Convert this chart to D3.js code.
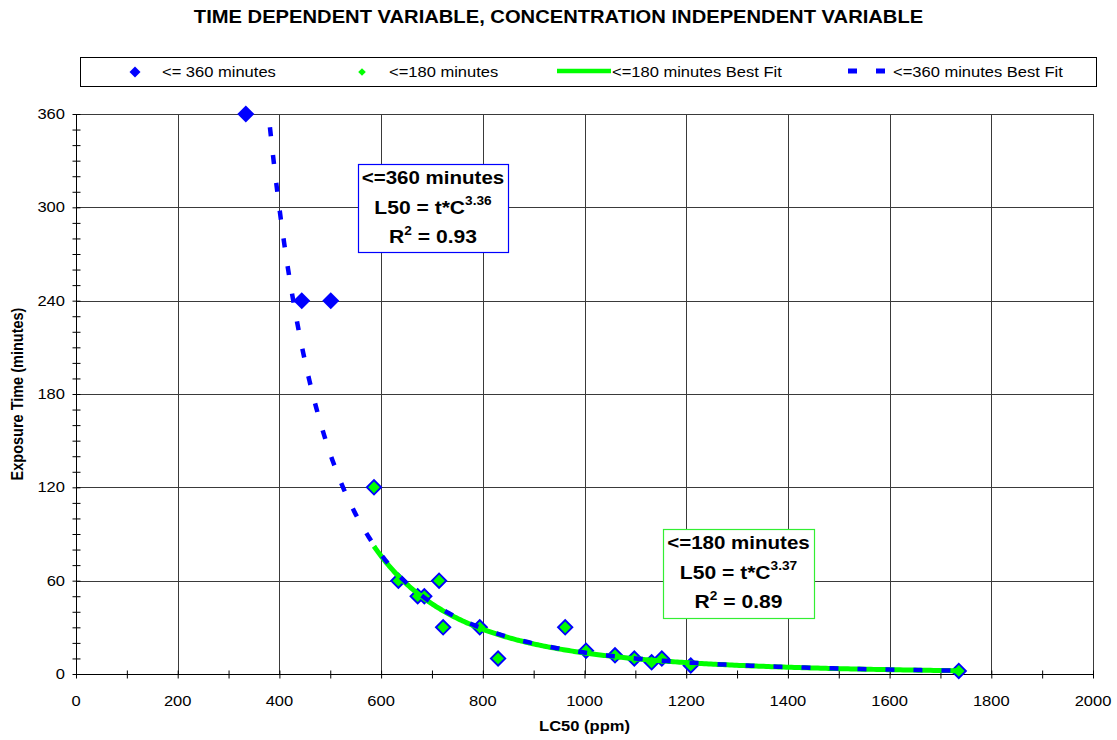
<!DOCTYPE html>
<html>
<head>
<meta charset="utf-8">
<script src="https://cdn.jsdelivr.net/npm/d3@7"></script>
<style>
  html, body { margin: 0; padding: 0; background: #fff; }
  svg { display: block; font-family: "Liberation Sans", Arial, Helvetica, sans-serif; }
</style>
</head>
<body>
<svg id="chart" width="1117" height="740"></svg>
<script>
// ---- chart text ----
const chartTitle = "TIME DEPENDENT VARIABLE, CONCENTRATION INDEPENDENT VARIABLE";
const xTitle = "LC50 (ppm)";
const yTitle = "Exposure Time (minutes)";
const seriesNames = ["<= 360 minutes", "<=180 minutes", "<=180 minutes Best Fit", "<=360 minutes Best Fit"];

// ---- axis ticks ----
const xMajorTicks = [0, 200, 400, 600, 800, 1000, 1200, 1400, 1600, 1800, 2000];
const xMinorStep = 100;
const yMajorTicks = [0, 60, 120, 180, 240, 300, 360];
const yMinorStep = 10;

// ---- observations: LC50 (ppm) vs exposure time (minutes) ----
const conc360 = [334, 444, 501, 586, 634, 672, 685, 714, 722, 794, 830, 962, 1003, 1060, 1098, 1132, 1152, 1209, 1736];
const time360 = [360, 240, 240, 120, 60, 50, 50, 60, 30, 30, 10, 30, 15, 12, 10, 7.5, 10, 5.5, 2];
const conc180 = [586, 634, 672, 685, 714, 722, 794, 830, 962, 1003, 1060, 1098, 1132, 1152, 1209, 1736];
const time180 = [120, 60, 50, 50, 60, 30, 30, 10, 30, 15, 12, 10, 7.5, 10, 5.5, 2];

// ---- fitted power-law exponents and goodness of fit ----
const exponent360 = 3.36;
const exponent180 = 3.37;
const rSquared360 = 0.93;
const rSquared180 = 0.89;

// ---- styling ----
const BLUE = "#0000ff";
const GREEN = "#00ff00";
const SX = 1.14;           // horizontal glyph stretch used for all text
const W = 1117, H = 740;

const svg = d3.select("#chart");

const x = d3.scaleLinear().domain([0, 2000]).range([76, 1093]);
const y = d3.scaleLinear().domain([0, 360]).range([674, 114]);
const px = v => Math.round(v) + 0.5;

// text helper: draws text anchored at (tx,ty) with a slight horizontal stretch
function label(parent, tx, ty, str, opts = {}) {
  const t = parent.append("text")
    .attr("transform", `translate(${tx},${ty}) scale(${SX},1)`)
    .attr("text-anchor", opts.anchor || "start")
    .attr("font-size", opts.size || 14.5)
    .attr("font-weight", opts.weight || "normal")
    .attr("fill", "#000");
  if (str !== null) t.text(str);
  return t;
}

// ---- title ----
label(svg, W / 2, 23, chartTitle, { anchor: "middle", size: 17.7, weight: "bold" });

// ---- legend ----
const legend = svg.append("g");
legend.append("rect")
  .attr("x", 80.5).attr("y", 57.5).attr("width", 1016).attr("height", 29)
  .attr("fill", "#fff").attr("stroke", "#000").attr("stroke-width", 1);
const ly = 72;
const diamond = d3.symbol().type(d3.symbolSquare);
legend.append("path")
  .attr("d", diamond.size(2 * 5.5 * 5.5)())
  .attr("transform", `translate(135,${ly}) rotate(45)`)
  .attr("fill", BLUE);
label(legend, 162, ly + 5, seriesNames[0]);
legend.append("path")
  .attr("d", diamond.size(2 * 3.8 * 3.8)())
  .attr("transform", `translate(362,${ly}) rotate(45)`)
  .attr("fill", GREEN);
label(legend, 389, ly + 5, seriesNames[1]);
legend.append("line")
  .attr("x1", 557).attr("x2", 611).attr("y1", ly - 1).attr("y2", ly - 1)
  .attr("stroke", GREEN).attr("stroke-width", 4.5);
label(legend, 612, ly + 5, seriesNames[2]);
legend.append("line")
  .attr("x1", 848).attr("x2", 886).attr("y1", ly - 1).attr("y2", ly - 1)
  .attr("stroke", BLUE).attr("stroke-width", 5)
  .attr("stroke-dasharray", "9,19");
label(legend, 893, ly + 5, seriesNames[3]);

// ---- gridlines ----
const grid = svg.append("g").attr("stroke", "#3a3a3a").attr("stroke-width", 1);
grid.selectAll(".vg").data(xMajorTicks.filter(v => v > 0)).join("line")
  .attr("x1", d => px(x(d))).attr("x2", d => px(x(d)))
  .attr("y1", y(360)).attr("y2", y(0));
grid.selectAll(".hg").data(yMajorTicks.filter(v => v > 0)).join("line")
  .attr("x1", x(0)).attr("x2", x(2000))
  .attr("y1", d => px(y(d))).attr("y2", d => px(y(d)));

// ---- axes (ticks cross the axis line) ----
const xAxis = svg.append("g")
  .attr("transform", `translate(0,${px(y(0)) - 4})`)
  .call(d3.axisBottom(x).tickValues(d3.range(0, 2001, xMinorStep)).tickSize(8).tickFormat(""));
xAxis.select(".domain").remove();
xAxis.selectAll("line").attr("stroke", "#000");

const yAxis = svg.append("g")
  .attr("transform", `translate(${px(x(0)) + 4},0)`)
  .call(d3.axisLeft(y).tickValues(d3.range(0, 361, yMinorStep)).tickSize(8).tickFormat(""));
yAxis.select(".domain").remove();
yAxis.selectAll("line").attr("stroke", "#000");

svg.append("line")
  .attr("x1", px(x(0))).attr("x2", px(x(0))).attr("y1", y(360)).attr("y2", px(y(0)))
  .attr("stroke", "#000");
svg.append("line")
  .attr("x1", x(0)).attr("x2", x(2000)).attr("y1", px(y(0))).attr("y2", px(y(0)))
  .attr("stroke", "#000");

// tick labels
xMajorTicks.forEach(v => label(svg, x(v), 706, String(v), { anchor: "middle" }));
yMajorTicks.forEach(v => label(svg, 65, y(v) + 5, String(v), { anchor: "end" }));

// axis titles
label(svg, x(1000), 731, xTitle, { anchor: "middle", size: 14.5, weight: "bold" });
svg.append("text")
  .attr("transform", `translate(23,${(y(0) + y(360)) / 2}) rotate(-90) scale(1,${SX})`)
  .attr("text-anchor", "middle")
  .attr("font-size", 14.5).attr("font-weight", "bold")
  .text(yTitle);

// ---- power-law trend (t = a * C^-b) with the stated exponent ----
function powerFit(cs, ts, b) {
  const lnA = d3.mean(cs, (c, i) => Math.log(ts[i]) + b * Math.log(c));
  return c => Math.exp(lnA - b * Math.log(c));
}
function curvePoints(cs, f) {
  const lo = d3.min(cs), hi = d3.max(cs), n = 300;
  return d3.range(n + 1).map(i => {
    const c = lo * Math.pow(hi / lo, i / n);
    return [c, f(c)];
  });
}
const fit360 = powerFit(conc360, time360, exponent360);
const fit180 = powerFit(conc180, time180, exponent180);

svg.append("clipPath").attr("id", "plotClip")
  .append("rect").attr("x", x(0)).attr("y", y(360)).attr("width", x(2000) - x(0)).attr("height", y(0) - y(360));

const line = d3.line().x(d => x(d[0])).y(d => y(d[1]));

// ---- markers ----
const marks = svg.append("g");
marks.selectAll(".m360").data(d3.zip(conc360, time360)).join("path")
  .attr("d", diamond.size(2 * 8.5 * 8.5)())
  .attr("transform", d => `translate(${x(d[0])},${y(d[1])}) rotate(45)`)
  .attr("fill", BLUE);
marks.selectAll(".m180").data(d3.zip(conc180, time180)).join("path")
  .attr("d", diamond.size(2 * 5.8 * 5.8)())
  .attr("transform", d => `translate(${x(d[0])},${y(d[1])}) rotate(45)`)
  .attr("fill", GREEN);

// ---- trend lines ----
const fits = svg.append("g").attr("clip-path", "url(#plotClip)");
fits.append("path")
  .attr("d", line(curvePoints(conc180, fit180)))
  .attr("fill", "none").attr("stroke", GREEN).attr("stroke-width", 5);
fits.append("path")
  .attr("d", line(curvePoints(conc360, fit360)))
  .attr("fill", "none").attr("stroke", BLUE).attr("stroke-width", 4.5)
  .attr("stroke-dasharray", "9,19");

// ---- fit annotation boxes ----
function fitBox(bx, by, bw, bh, color, heading, exponent, r2) {
  const g = svg.append("g");
  g.append("rect").attr("x", bx + 0.5).attr("y", by + 0.5).attr("width", bw).attr("height", bh)
    .attr("fill", "#fff").attr("stroke", color).attr("stroke-width", 1.2);
  const cx = bx + bw / 2;
  label(g, cx, by + 20, heading, { anchor: "middle", size: 18, weight: "bold" });
  const l2 = label(g, cx, by + 49.5, null, { anchor: "middle", size: 18.5, weight: "bold" });
  l2.append("tspan").text("L50 = t*C");
  l2.append("tspan").attr("font-size", 12).attr("dy", -9).text(exponent.toFixed(2));
  const l3 = label(g, cx, by + 78.5, null, { anchor: "middle", size: 18.5, weight: "bold" });
  l3.append("tspan").text("R");
  l3.append("tspan").attr("font-size", 12).attr("dy", -8).text("2");
  l3.append("tspan").attr("dy", 8).text(" = " + r2.toFixed(2));
}
fitBox(358, 164, 150, 88, BLUE, "<=360 minutes", exponent360, rSquared360);
fitBox(663, 529, 151, 89, "#33ee33", "<=180 minutes", exponent180, rSquared180);
</script>
</body>
</html>
